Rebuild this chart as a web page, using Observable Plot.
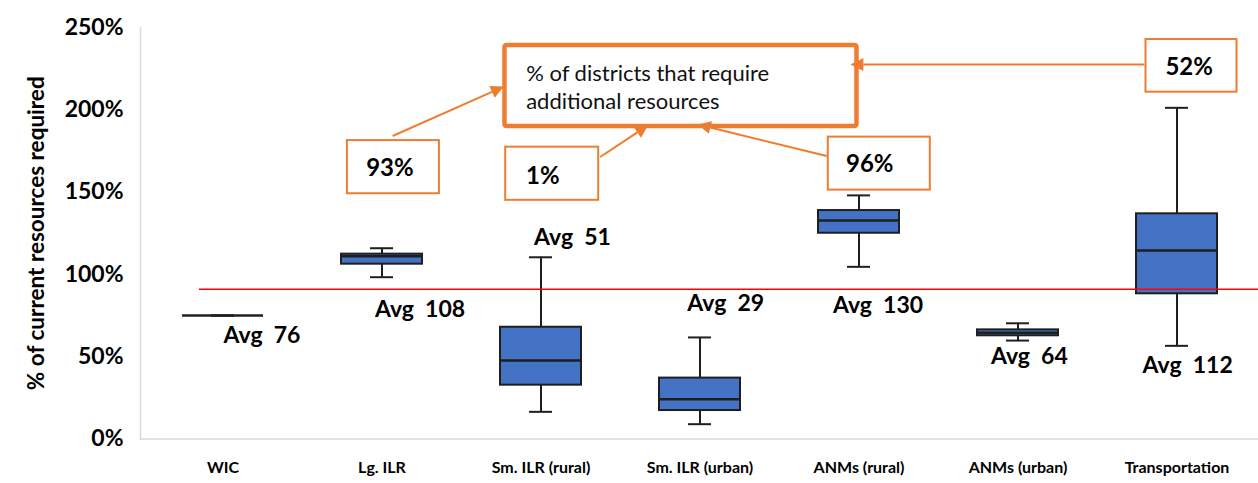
<!DOCTYPE html>
<html><head><meta charset="utf-8">
<script src="https://cdn.jsdelivr.net/npm/d3@7"></script>
<script src="https://cdn.jsdelivr.net/npm/@observablehq/plot@0.6"></script>
<style>
body{margin:0;background:#fff;}
#chart svg{display:block;}
#chart svg text{white-space:pre;}
</style></head>
<body><div id="chart"></div>
<script>
// ---- data ----
const categories = ["WIC","Lg. ILR","Sm. ILR (rural)","Sm. ILR (urban)","ANMs (rural)","ANMs (urban)","Transportation"];
const whiskerLow  = [75, 98.3, 16.5,  9.0, 104.6, 59.8,  56.6];
const quartile1   = [75, 106.2, 32.7, 17.3, 125.0, 62.7,  88.2];
const medians     = [75, 111.0, 47.7, 24.2, 132.7, 64.5, 114.5];
const quartile3   = [75, 112.3, 67.9, 37.0, 138.8, 66.3, 136.8];
const whiskerHigh = [75, 115.9, 110.4, 61.7, 148.0, 70.3, 201.2];
const averages    = [76, 108, 51, 29, 130, 64, 112];
const threshold = 91;
const yTicks = [0, 50, 100, 150, 200, 250];
const calloutCategories = ["Lg. ILR","Sm. ILR (rural)","ANMs (rural)","Transportation"];
const calloutValues = ["93%","1%","96%","52%"];
const legendText = ["% of districts that require", "additional resources"];

// ---- layout (positions, not data) ----
const avgLabelDx = [39, 38, 31.5, 25.7, 19, 11.3, 10.7];
const avgLabelY  = [62.9, 78.4, 122.1, 82.3, 81.1, 50.2, 44.5];
const calloutLayout = [
  {dx1:-34.6, dx2:57.4, y1:181.3, y2:149.0, tdx:8.4,  ty:164.9},
  {dx1:-35.3, dx2:57.7, y1:177.3, y2:145.0, tdx:2.4,  ty:160.0},
  {dx1:-30.7, dx2:71.3, y1:183.4, y2:151.2, tdx:11.3, ty:167.2},
  {dx1:-31.0, dx2:60.0, y1:242.7, y2:210.7, tdx:12.7, ty:225.9}
];
const arrowLayout = [
  {dx1:11.1,  y1:183.8, dx2:122.4, y2:213.8},
  {dx1:59.7,  y1:171.0, dx2:107.7, y2:190.3},
  {dx1:-31.7, y1:171.6, dx2:-160.7, y2:190.8},
  {dx1:-32.1, y1:227.2, dx2:-326.1, y2:227.2}
];
const bigBox = {cat:"Sm. ILR (rural)", dx1:-36, dx2:316, y1:239.1, y2:189.9, tdx:-14.3, ty1:221.9, ty2:204.9};

const rows = categories.map((c, i) => ({
  cat: c, lo: whiskerLow[i], q1: quartile1[i], med: medians[i], q3: quartile3[i], hi: whiskerHigh[i],
  avg: averages[i], ly: avgLabelY[i], ldx: avgLabelDx[i]
}));

const ORANGE = "#ED7D31";
const DARK = "#1f1f1f";
const FONT = "Lato, 'Open Sans', sans-serif";

const chart = Plot.plot({
  width: 1258, height: 483,
  marginLeft: 140, marginRight: 0, marginTop: 27, marginBottom: 44.5,
  style: {fontFamily: FONT, background: "white", color: "#000"},
  x: {domain: categories, padding: 0, label: null},
  y: {domain: [0, 250], label: null},
  marks: [
    Plot.frame({anchor: "left", stroke: "#d9d9d9", strokeWidth: 1.5}),
    Plot.ruleY([0], {stroke: "#d9d9d9", strokeWidth: 1.5}),
    Plot.axisY({ticks: yTicks, tickSize: 0, tickPadding: 17, tickFormat: d => d + "%", fontSize: 23, fontWeight: "bold", label: null}),
    Plot.axisX({tickSize: 0, tickPadding: 23, fontSize: 16, fontWeight: "bold", label: null}),
    Plot.text(["% of current resources required"], {frameAnchor: "left", textAnchor: "middle", rotate: -90, dx: -104, fontSize: 22.5, fontWeight: "bold"}),
    Plot.ruleX(rows, {x: "cat", y1: "lo", y2: "hi", stroke: DARK, strokeWidth: 2}),
    Plot.tickY(rows, {x: "cat", y: "lo", insetLeft: 68, insetRight: 68, stroke: DARK, strokeWidth: 2}),
    Plot.tickY(rows, {x: "cat", y: "hi", insetLeft: 68, insetRight: 68, stroke: DARK, strokeWidth: 2}),
    Plot.barY(rows, {x: "cat", y1: "q1", y2: "q3", insetLeft: 39, insetRight: 39, fill: "#4472C4", stroke: DARK, strokeWidth: 2}),
    Plot.tickY(rows, {x: "cat", y: "med", insetLeft: 39, insetRight: 39, stroke: DARK, strokeWidth: 2.5}),
    Plot.ruleY([threshold], {stroke: "red", strokeWidth: 1.5, insetLeft: 59}),
    ...rows.map(r => Plot.text([r], {x: "cat", y: "ly", dx: r.ldx, text: d => "Avg  " + d.avg, fontSize: 23, fontWeight: "bold", fill: "#000"}))
  ]
});

const svg = d3.select(chart);
const xs = chart.scale("x"), ys = chart.scale("y");
const cx = c => xs.apply(c) + xs.bandwidth / 2;
const yy = v => ys.apply(v);

const g = svg.append("g");

// big box
g.append("rect")
  .attr("x", cx(bigBox.cat) + bigBox.dx1).attr("y", yy(bigBox.y1))
  .attr("width", bigBox.dx2 - bigBox.dx1).attr("height", yy(bigBox.y2) - yy(bigBox.y1))
  .attr("rx", 2).attr("fill", "white").attr("stroke", ORANGE).attr("stroke-width", 4.5);
[bigBox.ty1, bigBox.ty2].forEach((ty, i) => {
  g.append("text").attr("x", cx(bigBox.cat) + bigBox.tdx).attr("y", yy(ty))
    .attr("dy", "0.36em").attr("text-anchor", "start").attr("font-size", 22).attr("font-family", FONT).attr("fill", "#111")
    .text(legendText[i]);
});

// callouts
calloutCategories.forEach((c, i) => {
  const L = calloutLayout[i];
  g.append("rect")
    .attr("x", cx(c) + L.dx1).attr("y", yy(L.y1))
    .attr("width", L.dx2 - L.dx1).attr("height", yy(L.y2) - yy(L.y1))
    .attr("fill", "white").attr("stroke", ORANGE).attr("stroke-width", 2);
  g.append("text").attr("x", cx(c) + L.tdx).attr("y", yy(L.ty))
    .attr("dy", "0.36em").attr("text-anchor", "middle").attr("font-size", 24)
    .attr("font-weight", "bold").attr("font-family", FONT).attr("fill", "#000")
    .text(calloutValues[i]);
});

// arrows
calloutCategories.forEach((c, i) => {
  const A = arrowLayout[i];
  const x1 = cx(c) + A.dx1, y1 = yy(A.y1), x2 = cx(c) + A.dx2, y2 = yy(A.y2);
  const ang = Math.atan2(y2 - y1, x2 - x1);
  const len = 13, hw = 6.5;
  const bx = x2 - len * Math.cos(ang), by = y2 - len * Math.sin(ang);
  g.append("line").attr("x1", x1).attr("y1", y1).attr("x2", bx).attr("y2", by)
    .attr("stroke", ORANGE).attr("stroke-width", 2);
  const px = -Math.sin(ang) * hw, py = Math.cos(ang) * hw;
  g.append("polygon")
    .attr("points", `${x2},${y2} ${bx + px},${by + py} ${bx - px},${by - py}`)
    .attr("fill", ORANGE);
});

document.getElementById("chart").appendChild(chart);
</script>
</body></html>
